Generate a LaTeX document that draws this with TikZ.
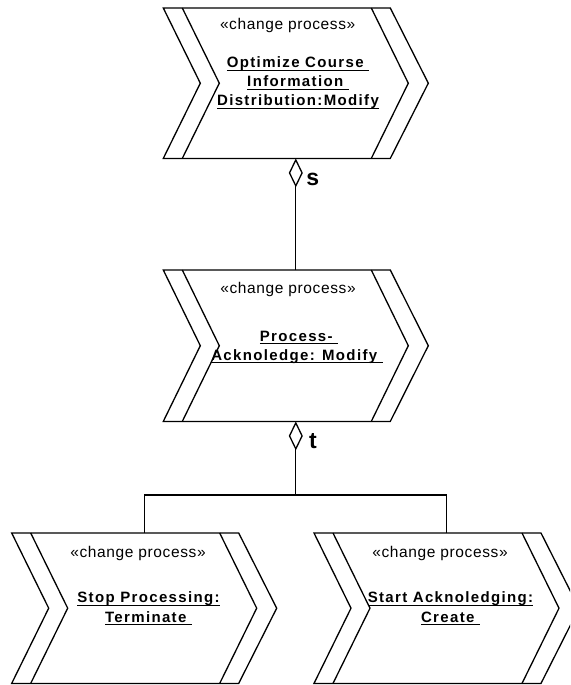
\documentclass[tikz,border=0pt]{standalone}
\usepackage{fontspec}
\setmainfont{Liberation Sans}
\newfontfamily\stereofont{Liberation Sans}[LetterSpace=4]
\newfontfamily\namefont{Liberation Sans}[LetterSpace=9]
\usetikzlibrary{arrows.meta}

% underline that keeps trailing spaces
\newcommand\underlined[1]{\setbox0=\hbox{#1}\rlap{\rule[-3.2pt]{\wd0}{1.2pt}}\box0}

% double chevron outline drawn around a named box node
\newcommand\chevron[1]{%
  \draw[outline] (#1.north west) -- ([xshift=227pt]#1.north west) -- (#1.east)
    -- ([xshift=227pt]#1.south west) -- (#1.south west) -- ([xshift=37pt]#1.west) -- cycle;
  \draw[outline] ([xshift=19pt]#1.north west) -- ([xshift=56pt]#1.west) -- ([xshift=19pt]#1.south west);
  \draw[outline] ([xshift=208pt]#1.north west) -- ([xshift=245pt]#1.west) -- ([xshift=208pt]#1.south west);
}

\tikzset{
  procbox/.style={draw=none, inner sep=0pt, minimum width=264.6pt, anchor=north west},
  outline/.style={line width=1.3pt, line join=miter},
  stereo/.style={anchor=base, inner sep=0pt, font=\stereofont\fontsize{15.5}{18}\selectfont},
  pname/.style={anchor=base, inner sep=0pt, font=\namefont\bfseries\fontsize{15}{18}\selectfont},
  role/.style={inner sep=0pt, font=\bfseries\fontsize{23}{25}\selectfont},
  aggregation/.style={line width=1.3pt, -{Diamond[open, length=29pt, width=14pt]}},
  link/.style={line width=1.3pt},
}

\begin{document}
\begin{tikzpicture}[x=1pt, y=-1pt]
\useasboundingbox (0,0) rectangle (570,685);
\clip (0,0) rectangle (570,685);

% process boxes
\node[procbox, minimum height=150pt] (optimize) at (163.3,8) {};
\node[procbox, minimum height=151pt] (acknowledge) at (163.3,270) {};
\node[procbox, minimum height=150pt] (stop) at (11.7,533) {};
\node[procbox, minimum height=150pt] (start) at (314,533) {};

\chevron{optimize}
\chevron{acknowledge}
\chevron{stop}
\chevron{start}

% labels of the top process
\node[stereo] (optimize-st) at (287.7,29.3) {«change process»};
\node[pname] (optimize-n1) at (298,67.7) {\underlined{Optimize Course\ }};
\node[pname] (optimize-n2) at (298,86.8) {\underlined{Information\ }};
\node[pname] (optimize-n3) at (298,105.9) {\underlined{Distribution:Modify}};

% labels of the middle process
\node[stereo] (acknowledge-st) at (288,293.3) {«change process»};
\node[pname] (acknowledge-n1) at (299,341) {\underlined{Process-\ }};
\node[pname] (acknowledge-n2) at (297,360) {\underlined{Acknoledge: Modify\ }};

% labels of the lower processes
\node[stereo] (stop-st) at (138,557.7) {«change process»};
\node[pname] (stop-n1) at (148.5,602.7) {\underlined{Stop Processing:}};
\node[pname] (stop-n2) at (148.5,622) {\underlined{Terminate\ }};

\node[stereo] (start-st) at (440,557.7) {«change process»};
\node[pname] (start-n1) at (450.5,602.7) {\underlined{Start Acknoledging:}};
\node[pname] (start-n2) at (450.5,622) {\underlined{Create\ }};

% aggregation links
\draw[aggregation] (acknowledge.north) -- (optimize.south);
\node[role] (role-s) at (312.7,179) {s};

\coordinate (bus) at (acknowledge.south |- 0,495);
\draw[aggregation] (bus) -- (acknowledge.south);
\node[role] (role-t) at (313,441) {t};
\draw[link] (stop.north) |- (bus) -| (start.north);
\end{tikzpicture}
\end{document}
